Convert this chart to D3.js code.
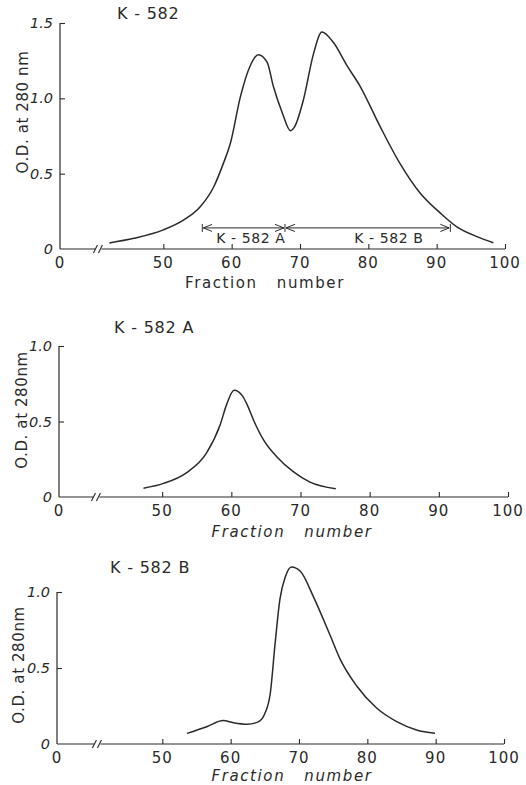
<!DOCTYPE html>
<html>
<head>
<meta charset="utf-8">
<script src="https://cdn.jsdelivr.net/npm/d3@7"></script>
<style>
  html, body { margin: 0; padding: 0; background: #fff; }
  svg { display: block; }
  text { font-family: "DejaVu Sans", sans-serif; fill: #2a2a2a; white-space: pre; }
</style>
</head>
<body>
<svg id="chart" width="526" height="785"></svg>
<script>
// ---- Data ----
const xTickValues = [0, 50, 60, 70, 80, 90, 100];
const yTicksTop = [0, 0.5, 1.0, 1.5];
const yTicksSub = [0, 0.5, 1.0];
const yTickLabels = {0: "0", 0.5: "0.5", 1: "1.0", 1.5: "1.5"};

const topFraction = [42.1, 45.7, 50, 53, 55.4, 57.4, 58.8, 59.8, 61.3, 62.7, 63.9, 65.2, 66.1, 67.4, 68.6, 69.2, 70.5, 72, 73.2, 74.9, 76.9, 78.8, 81.7, 84.6, 87.6, 90.5, 92.9, 95.9, 98.3];
const topOD       = [0.04, 0.071, 0.127, 0.193, 0.28, 0.415, 0.57, 0.70, 1.015, 1.215, 1.29, 1.238, 1.08, 0.905, 0.785, 0.81, 0.99, 1.30, 1.44, 1.37, 1.215, 1.08, 0.815, 0.57, 0.37, 0.24, 0.149, 0.082, 0.042];

const aFraction = [47.3, 50.2, 53.5, 56.4, 58.4, 59.3, 60.4, 61.6, 62.3, 63.2, 64.7, 66.6, 69, 71.3, 75.1];
const aOD       = [0.058, 0.09, 0.16, 0.29, 0.48, 0.61, 0.707, 0.67, 0.61, 0.51, 0.375, 0.265, 0.166, 0.10, 0.054];

const bFraction = [53.6, 56.5, 58.9, 60.4, 62.4, 64.1, 65, 65.8, 66.5, 67.2, 68, 68.9, 70.2, 72.1, 74.6, 76, 78.5, 81.4, 84.3, 87.2, 89.9];
const bOD       = [0.07, 0.114, 0.154, 0.14, 0.13, 0.147, 0.20, 0.334, 0.66, 0.95, 1.10, 1.165, 1.136, 0.97, 0.71, 0.56, 0.378, 0.235, 0.147, 0.092, 0.07];

// pooled ranges shown on the top panel
const poolA = [55.7, 67.8];
const poolB = [67.8, 92];
const poolLevel = 0.14;

// ---- Drawing ----
const svg = d3.select("#chart");
const ink = "#2a2a2a";

const defs = svg.append("defs");
function mk(id, orient) {
  defs.append("marker").attr("id", id)
    .attr("viewBox", "0 0 10 10").attr("refX", 10).attr("refY", 5)
    .attr("markerWidth", 9).attr("markerHeight", 9).attr("markerUnits", "userSpaceOnUse")
    .attr("orient", orient)
    .append("path").attr("d", "M0,1 L10,5 L0,9").attr("fill", "none")
    .attr("stroke", ink).attr("stroke-width", 1.1);
}
mk("arrowEnd", "auto");
mk("arrowStart", "auto-start-reverse");

function panel(cfg) {
  const x = d3.scaleLinear().domain([0, 40, 100]).range(cfg.xRange);
  const y = d3.scaleLinear().domain([0, cfg.yMax]).range([cfg.y0, cfg.yTop]);
  const g = svg.append("g");

  // y axis
  const yAxis = d3.axisRight(y).tickValues(cfg.yTicks).tickSize(5).tickFormat(() => "");
  const ga = g.append("g").attr("transform", `translate(${cfg.xRange[0]},0)`).call(yAxis);
  ga.select(".domain").attr("d", `M0,${y(0)}V${y(cfg.yMax)}`).attr("stroke", ink).attr("stroke-width", 1.2);
  ga.selectAll(".tick line").attr("stroke", ink).attr("stroke-width", 1.1)
    .filter(d => d === 0).remove();
  g.selectAll(".ylab").data(cfg.yTicks).join("text")
    .attr("x", cfg.xRange[0] - 7).attr("y", d => y(d) + 5)
    .attr("text-anchor", "end").attr("font-size", 14.5).attr("font-style", "italic")
    .text(d => yTickLabels[d]);

  // x axis with break
  const xAxis = d3.axisTop(x).tickValues(xTickValues.filter(v => v > 0)).tickSize(5).tickFormat(() => "");
  const gx = g.append("g").attr("transform", `translate(0,${cfg.y0})`).call(xAxis);
  gx.select(".domain").remove();
  gx.selectAll(".tick line").attr("stroke", ink).attr("stroke-width", 1.1);
  const xb = x(40.5);
  g.append("line").attr("x1", cfg.xRange[0]).attr("x2", xb - 3).attr("y1", cfg.y0).attr("y2", cfg.y0)
    .attr("stroke", ink).attr("stroke-width", 1.2);
  g.append("line").attr("x1", xb + 3).attr("x2", x(100)).attr("y1", cfg.y0).attr("y2", cfg.y0)
    .attr("stroke", ink).attr("stroke-width", 1.2);
  [-3, 2].forEach(dx => {
    g.append("line").attr("x1", xb + dx - 2).attr("y1", cfg.y0 + 4)
      .attr("x2", xb + dx + 2).attr("y2", cfg.y0 - 4)
      .attr("stroke", ink).attr("stroke-width", 1.1);
  });
  g.selectAll(".xlab").data(xTickValues).join("text")
    .attr("x", d => x(d)).attr("y", cfg.y0 + 19)
    .attr("text-anchor", "middle").attr("font-size", 15).attr("letter-spacing", 1)
    .text(d => d);

  g.append("text").attr("x", cfg.xLabelX).attr("y", cfg.y0 + cfg.xLabelDy)
    .attr("text-anchor", "middle").attr("font-size", 15).attr("letter-spacing", 1.6)
    .attr("font-style", cfg.labelItalic ? "italic" : "normal")
    .text("Fraction   number");

  g.append("text")
    .attr("transform", `translate(${cfg.yLabelX},${cfg.yLabelY}) rotate(-90)`)
    .attr("text-anchor", "middle").attr("font-size", 15).attr("letter-spacing", 0.6)
    .text(cfg.yLabel);

  g.append("text").attr("x", cfg.titleX).attr("y", cfg.titleY)
    .attr("font-size", 16).attr("letter-spacing", 0.8).text(cfg.title);

  // curve
  const pts = cfg.fx.map((f, i) => [f, cfg.fy[i]]);
  g.append("path").datum(pts)
    .attr("d", d3.line().x(d => x(d[0])).y(d => y(d[1])).curve(d3.curveMonotoneX))
    .attr("fill", "none").attr("stroke", ink).attr("stroke-width", 1.5);

  return {g, x, y};
}

const topPanel = panel({
  xRange: [60, 95, 505], y0: 249, yTop: 23, yMax: 1.5, yTicks: yTicksTop,
  fx: topFraction, fy: topOD, title: "K - 582", titleX: 117, titleY: 19,
  yLabel: "O.D. at 280 nm", yLabelX: 28, yLabelY: 112, xLabelX: 265, xLabelDy: 39, labelItalic: false
});
const midPanel = panel({
  xRange: [59, 93, 508], y0: 497, yTop: 346, yMax: 1.0, yTicks: yTicksSub,
  fx: aFraction, fy: aOD, title: "K - 582 A", titleX: 114, titleY: 333,
  yLabel: "O.D. at 280nm", yLabelX: 27, yLabelY: 410, xLabelX: 292, xLabelDy: 40, labelItalic: true
});
const botPanel = panel({
  xRange: [57, 94, 504], y0: 744, yTop: 592, yMax: 1.0, yTicks: yTicksSub,
  fx: bFraction, fy: bOD, title: "K - 582 B", titleX: 110, titleY: 573,
  yLabel: "O.D. at 280nm", yLabelX: 24, yLabelY: 665, xLabelX: 292, xLabelDy: 37, labelItalic: true
});

// pooled fraction annotations on the top panel
const yp = topPanel.y(poolLevel);
[poolA, poolB].forEach(r => {
  topPanel.g.append("line").attr("x1", topPanel.x(r[0]) + 1).attr("x2", topPanel.x(r[1]) - 1)
    .attr("y1", yp).attr("y2", yp).attr("stroke", ink).attr("stroke-width", 1)
    .attr("marker-start", "url(#arrowStart)").attr("marker-end", "url(#arrowEnd)");
});
[poolA[0], poolA[1], poolB[1]].forEach(v => {
  topPanel.g.append("line").attr("x1", topPanel.x(v)).attr("x2", topPanel.x(v))
    .attr("y1", yp - 4).attr("y2", yp + 4).attr("stroke", ink).attr("stroke-width", 1);
});
topPanel.g.append("text").attr("x", topPanel.x(62.8)).attr("y", yp + 15).attr("text-anchor", "middle")
  .attr("font-size", 14).attr("letter-spacing", 0.6).text("K - 582 A");
topPanel.g.append("text").attr("x", topPanel.x(83)).attr("y", yp + 15).attr("text-anchor", "middle")
  .attr("font-size", 14).attr("letter-spacing", 0.6).text("K - 582 B");
</script>
</body>
</html>
